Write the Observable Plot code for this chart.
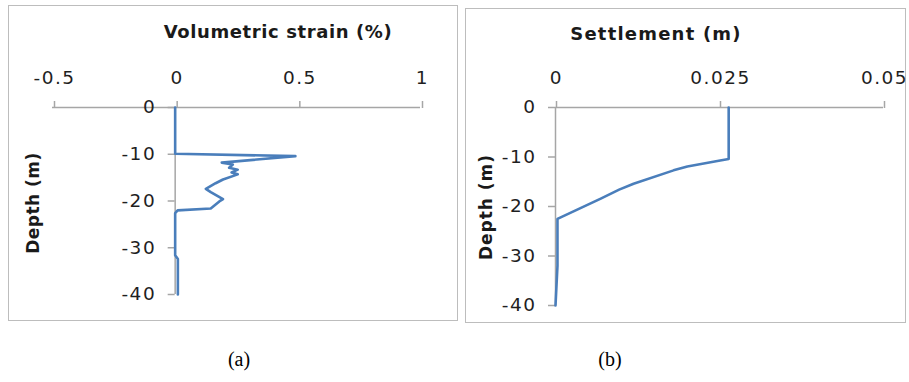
<!DOCTYPE html>
<html>
<head>
<meta charset="utf-8">
<script src="https://cdn.jsdelivr.net/npm/d3@7"></script>
<script src="https://cdn.jsdelivr.net/npm/@observablehq/plot@0.6"></script>
<style>
  html, body { margin: 0; padding: 0; background: #fff; }
  #page { position: relative; width: 909px; height: 382px; overflow: hidden; background: #fff; }
  .panel { position: absolute; border: 1.5px solid #bdbdbd; box-sizing: border-box; }
  .abs { position: absolute; }
  .title { font-family: "DejaVu Sans", sans-serif; font-weight: bold; font-size: 18px; color: #1a1a1a; white-space: nowrap; transform: translate(-50%, -50%); }
  .ylab { font-family: "DejaVu Sans", sans-serif; font-weight: bold; font-size: 17px; color: #1a1a1a; white-space: nowrap; transform: translate(-50%, -50%) rotate(-90deg); }
  .cap { font-family: "Liberation Serif", serif; font-size: 20px; color: #000; white-space: nowrap; transform: translate(-50%, -50%); }
  svg { position: absolute; top: 0; }
</style>
</head>
<body>
<div id="page">
  <div class="panel" style="left:8px; top:5px; width:450px; height:316px;"></div>
  <div class="panel" style="left:465px; top:8px; width:441px; height:315px;"></div>
  <div class="abs title" style="left:278px; top:31px; letter-spacing:0.6px;">Volumetric strain (%)</div>
  <div class="abs title" style="left:656px; top:33px; letter-spacing:1.2px;">Settlement (m)</div>
  <div class="abs ylab" style="left:33px; top:203px; letter-spacing:0.5px;">Depth (m)</div>
  <div class="abs ylab" style="left:486px; top:207px; letter-spacing:1px;">Depth (m)</div>
  <div class="abs cap" style="left:239px; top:359px;">(a)</div>
  <div class="abs cap" style="left:610px; top:359px;">(b)</div>
</div>
<script>
// Panel (a): volumetric strain profile
const strainDepth = [0, -9.9, -10.4, -11.8, -12.2, -12.9, -13.3, -13.9, -14.3, -15.4, -16.2, -17.4, -18.1, -19.6, -20.1, -21.6, -22.0, -22.6, -31.6, -32.4, -40];
const strainValue = [0, 0, 0.49, 0.19, 0.235, 0.22, 0.255, 0.23, 0.255, 0.195, 0.165, 0.125, 0.145, 0.195, 0.18, 0.145, 0.01, 0, 0, 0.011, 0.011];
const strainTicks = [-0.5, 0, 0.5, 1];
const depthTicks = [0, -10, -20, -30, -40];

// Panel (b): settlement profile
const settleDepth = [0, -10.4, -10.7, -11.9, -12.7, -15.4, -16.6, -18.4, -22.5, -32.0, -40];
const settleValue = [0.0264, 0.0264, 0.0251, 0.0201, 0.018, 0.0119, 0.0097, 0.0069, 0.0003, 0.0003, 0];
const settleTicks = [0, 0.025, 0.05];

const axisColor = "#a6a6a6";
const lineColor = "#4a7ebb";
const tickFont = {fontFamily: "DejaVu Sans, sans-serif", fontSize: 18.5, fill: "#1f1f1f"};

const strainData = strainDepth.map((d, i) => ({depth: d, v: strainValue[i]}));
const settleData = settleDepth.map((d, i) => ({depth: d, v: settleValue[i]}));

function fmt(d) { return d === 0 ? "0" : String(d); }

function panel({data, xDomain, xTicks, width, height, margins, dxLabel}) {
  return Plot.plot({
    width, height,
    ...margins,
    style: {background: "transparent", overflow: "visible", letterSpacing: "1.5px"},
    x: {domain: xDomain},
    y: {domain: [-40, 0]},
    marks: [
      Plot.ruleY([0], {x1: xDomain[0], x2: xDomain[1], stroke: axisColor, strokeWidth: 1.5}),
      Plot.ruleX([0], {y1: -40, y2: 0, stroke: axisColor, strokeWidth: 1.5}),
      Plot.axisX(xTicks, {anchor: "top", tickSize: 7, tickPadding: 17, dx: dxLabel, stroke: axisColor, strokeWidth: 1.5, tickFormat: fmt, ...tickFont, label: null}),
      Plot.axisY(depthTicks, {anchor: "left", x: 0, tickSize: 7, tickPadding: 12, stroke: axisColor, strokeWidth: 1.5, tickFormat: fmt, ...tickFont, label: null}),
      Plot.line(data, {x: "v", y: "depth", stroke: lineColor, strokeWidth: 2.6, curve: "linear"})
    ]
  });
}

const page = document.getElementById("page");

const svgA = panel({
  data: strainData, xDomain: [-0.5, 1], xTicks: strainTicks, dxLabel: 2,
  width: 460, height: 330,
  margins: {marginLeft: 52, marginRight: 40, marginTop: 107, marginBottom: 36}
});
svgA.style.left = "0px";
page.appendChild(svgA);

const svgB = panel({
  data: settleData, xDomain: [0, 0.05], xTicks: settleTicks, dxLabel: 1,
  width: 449, height: 330,
  margins: {marginLeft: 95, marginRight: 26, marginTop: 107, marginBottom: 25}
});
svgB.style.left = "460px";
page.appendChild(svgB);
</script>
</body>
</html>
